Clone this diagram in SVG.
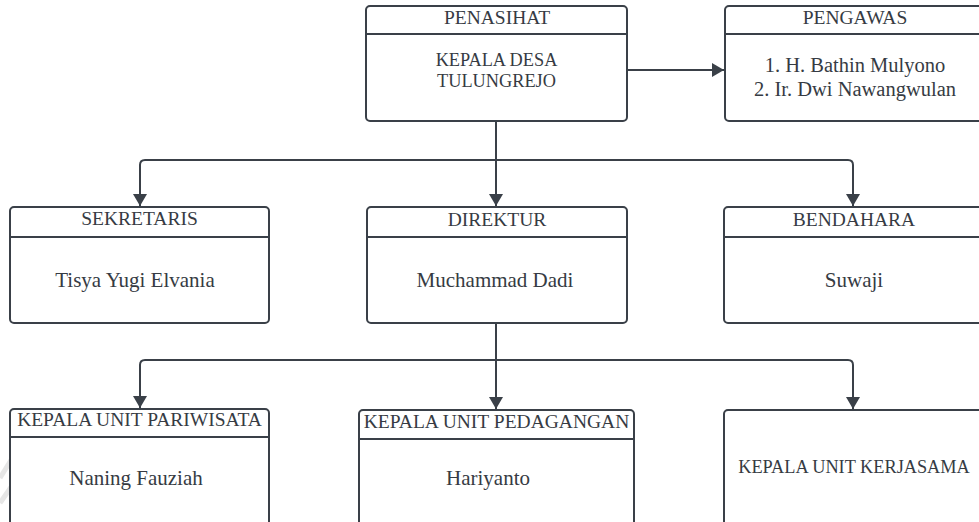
<svg xmlns="http://www.w3.org/2000/svg" width="979" height="522" viewBox="0 0 979 522">
<style>
.box{fill:#ffffff;stroke:#3a4048;stroke-width:2}
.sep{stroke:#3a4048;stroke-width:2}
.con{fill:none;stroke:#3a4048;stroke-width:2}
text{font-family:"Liberation Serif","Times New Roman",serif;fill:#363b43;text-anchor:middle}
.hd{font-size:19.5px}
.bd{font-size:21px}
.pg{font-size:20.5px}
.cp{font-size:18.3px}
</style>
<defs>
<marker id="ah" viewBox="0 0 12 14" refX="12" refY="7" markerWidth="12" markerHeight="14" markerUnits="userSpaceOnUse" orient="auto">
<path d="M0,0 L12,7 L0,14 Z" fill="#3a4048"/>
</marker>
</defs>
<rect width="979" height="522" fill="#ffffff"/>
<g id="watermark" stroke="#e6e6e6" stroke-width="5" fill="none">
<path d="M0,478 L16,452"/>
<path d="M0,503 L16,480"/>
</g>
<g id="connectors">
<path class="con" d="M627,70 H724" marker-end="url(#ah)"/>
<path class="con" d="M496,121 V206" marker-end="url(#ah)"/>
<path class="con" d="M496,160 H145 Q140,160 140,165 V206" marker-end="url(#ah)"/>
<path class="con" d="M496,160 H848 Q853,160 853,165 V206" marker-end="url(#ah)"/>
<path class="con" d="M496,323 V409" marker-end="url(#ah)"/>
<path class="con" d="M496,360 H145 Q140,360 140,365 V408" marker-end="url(#ah)"/>
<path class="con" d="M496,360 H848 Q853,360 853,365 V409" marker-end="url(#ah)"/>
</g>
<g id="penasihat">
<rect class="box" x="366" y="6" width="261" height="115" rx="4"/>
<line class="sep" x1="366" y1="34" x2="627" y2="34"/>
<text class="hd" x="497" y="24">PENASIHAT</text>
<text class="cp" x="496.5" y="66">KEPALA DESA</text>
<text class="cp" x="496.5" y="87">TULUNGREJO</text>
</g>
<g id="pengawas">
<rect class="box" x="725" y="6" width="262" height="115" rx="4"/>
<line class="sep" x1="725" y1="34" x2="987" y2="34"/>
<text class="hd" x="855" y="24">PENGAWAS</text>
<text class="pg" x="855" y="72">1. H. Bathin Mulyono</text>
<text class="pg" x="855" y="96">2. Ir. Dwi Nawangwulan</text>
</g>
<g id="sekretaris">
<rect class="box" x="10" y="207" width="259" height="116" rx="4"/>
<line class="sep" x1="10" y1="237" x2="269" y2="237"/>
<text class="hd" x="139.5" y="225">SEKRETARIS</text>
<text class="bd" x="135" y="287">Tisya Yugi Elvania</text>
</g>
<g id="direktur">
<rect class="box" x="367" y="207" width="260" height="116" rx="4"/>
<line class="sep" x1="367" y1="237" x2="627" y2="237"/>
<text class="hd" x="497" y="226">DIREKTUR</text>
<text class="bd" x="495" y="287">Muchammad Dadi</text>
</g>
<g id="bendahara">
<rect class="box" x="724" y="207" width="262" height="116" rx="4"/>
<line class="sep" x1="724" y1="237" x2="986" y2="237"/>
<text class="hd" x="854" y="226">BENDAHARA</text>
<text class="bd" x="854" y="287">Suwaji</text>
</g>
<g id="pariwisata">
<rect class="box" x="10" y="409" width="259" height="130" rx="4"/>
<line class="sep" x1="10" y1="437" x2="269" y2="437"/>
<text class="hd" x="139.5" y="426">KEPALA UNIT PARIWISATA</text>
<text class="bd" x="136" y="485">Naning Fauziah</text>
</g>
<g id="pedagangan">
<rect class="box" x="359" y="410" width="275" height="130" rx="4"/>
<line class="sep" x1="359" y1="439" x2="634" y2="439"/>
<text class="hd" x="496.5" y="428">KEPALA UNIT PEDAGANGAN</text>
<text class="bd" x="488" y="485">Hariyanto</text>
</g>
<g id="kerjasama">
<rect class="box" x="724" y="410" width="262" height="130" rx="4"/>
<text class="cp" x="854" y="473">KEPALA UNIT KERJASAMA</text>
</g>
</svg>
